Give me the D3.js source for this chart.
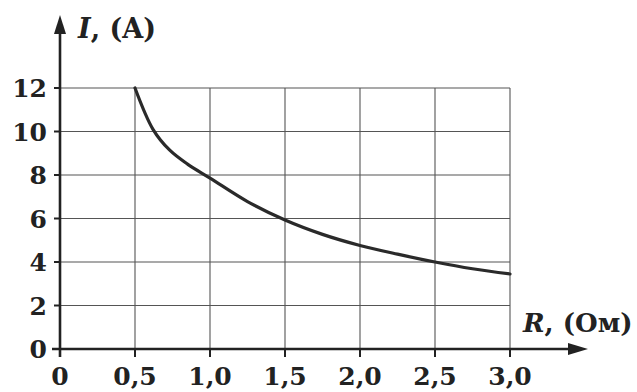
<!DOCTYPE html>
<html><head><meta charset="utf-8">
<script src="https://cdn.jsdelivr.net/npm/d3@7"></script>
<style>
html,body{margin:0;padding:0;background:#fff;}
svg{display:block;}
text{font-family:"DejaVu Serif",serif;fill:#222;}
</style></head>
<body>
<svg id="c" width="637" height="392"></svg>
<script>
const resistance = [0.5, 0.62, 0.73, 0.85, 1.0, 1.25, 1.5, 1.75, 2.0, 2.25, 2.5, 2.75, 3.0];
const current    = [12, 10.1, 9.15, 8.5, 7.86, 6.78, 5.93, 5.27, 4.76, 4.36, 4.0, 3.69, 3.45];
const xTicks = [0, 0.5, 1.0, 1.5, 2.0, 2.5, 3.0];
const xTickLabels = ["0", "0,5", "1,0", "1,5", "2,0", "2,5", "3,0"];
const yTicks = [0, 2, 4, 6, 8, 10, 12];
const yTickLabels = ["0", "2", "4", "6", "8", "10", "12"];

const svg = d3.select("#c");
const x = d3.scaleLinear().domain([0, 3]).range([60, 510]);
const y = d3.scaleLinear().domain([0, 12]).range([349, 88]);

const grid = svg.append("g").attr("stroke", "#555").attr("stroke-width", 1.1);
xTicks.filter(d => d > 0).forEach(d => {
  grid.append("line").attr("x1", x(d)).attr("x2", x(d)).attr("y1", y(0)).attr("y2", y(12));
});
yTicks.filter(d => d > 0).forEach(d => {
  grid.append("line").attr("x1", x(0)).attr("x2", x(3)).attr("y1", y(d)).attr("y2", y(d));
});

const ax = svg.append("g").attr("stroke", "#222").attr("stroke-width", 2);
xTicks.forEach(d => {
  ax.append("line").attr("x1", x(d)).attr("x2", x(d)).attr("y1", y(0)).attr("y2", y(0) + 8);
});
yTicks.forEach(d => {
  ax.append("line").attr("x1", x(0) - 6).attr("x2", x(0)).attr("y1", y(d)).attr("y2", y(d));
});
svg.append("line").attr("x1", 52).attr("x2", 575).attr("y1", y(0)).attr("y2", y(0))
  .attr("stroke", "#222").attr("stroke-width", 2.6);
svg.append("line").attr("x1", x(0)).attr("x2", x(0)).attr("y1", y(0) + 8).attr("y2", 28)
  .attr("stroke", "#222").attr("stroke-width", 2.6);
svg.append("path").attr("d", `M${x(0)},15 L${x(0)-6},34 L${x(0)+6},34 Z`).attr("fill", "#222");
svg.append("path").attr("d", `M588,${y(0)} L568,${y(0)-6} L568,${y(0)+6} Z`).attr("fill", "#222");

const pts = resistance.map((r, i) => [r, current[i]]);
svg.append("path").datum(pts)
  .attr("d", d3.line().x(d => x(d[0])).y(d => y(d[1])).curve(d3.curveCatmullRom.alpha(0.5)))
  .attr("fill", "none").attr("stroke", "#2a2a2a").attr("stroke-width", 3.2).attr("stroke-linecap", "round");

svg.append("g").selectAll("text").data(xTicks).join("text")
  .attr("x", d => x(d)).attr("y", 385).attr("text-anchor", "middle")
  .attr("font-size", 25).attr("font-weight", "bold").text((d, i) => xTickLabels[i]);
svg.append("g").selectAll("text").data(yTicks).join("text")
  .attr("x", 47).attr("y", d => y(d)).attr("dy", "0.36em").attr("text-anchor", "end")
  .attr("font-size", 25).attr("font-weight", "bold").text((d, i) => yTickLabels[i]);

const ty = svg.append("text").attr("x", 78).attr("y", 38).attr("font-size", 27);
ty.append("tspan").attr("font-style", "italic").attr("font-weight", "bold").text("I");
ty.append("tspan").attr("font-weight", "bold").text(", (A)");
const tx = svg.append("text").attr("x", 523).attr("y", 332).attr("font-size", 26);
tx.append("tspan").attr("font-style", "italic").attr("font-weight", "bold").text("R");
tx.append("tspan").attr("font-weight", "bold").text(", (Ом)");
</script>
</body></html>
